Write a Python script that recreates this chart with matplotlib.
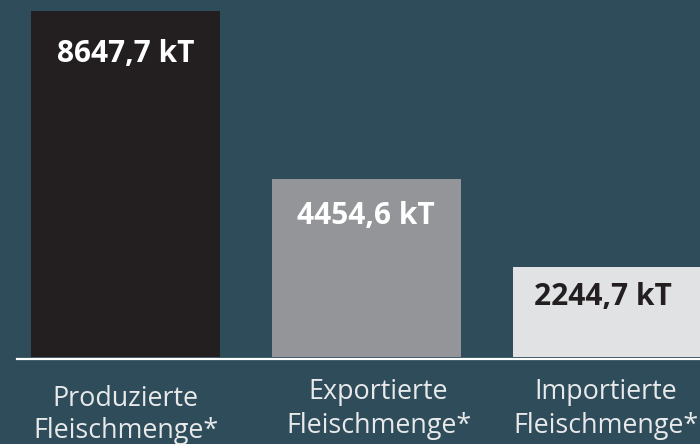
import matplotlib
matplotlib.use("Agg")
import matplotlib.pyplot as plt
import matplotlib.transforms as mtransforms
from matplotlib.lines import Line2D

categories = [["Produzierte", "Fleischmenge*"], ["Exportierte", "Fleischmenge*"], ["Importierte", "Fleischmenge*"]]
values = [8647.7, 4454.6, 2244.7]
value_labels = ["8647,7 kT", "4454,6 kT", "2244,7 kT"]

bar_colors = ["#231f20", "#939598", "#e1e2e4"]
text_colors = ["#ffffff", "#ffffff", "#231f20"]
# styling offsets (px)
value_dy = [-51, -45, -38]
value_dx = [0, -1, -5]
cat_dx = [0, 12, -2]
cat_base = [[406, 438], [399, 433], [399, 433]]
bg = "#2f4c5a"

W, H = 700, 444
PT = 0.72
fig = plt.figure(figsize=(W / 100, H / 100), dpi=100, facecolor=bg)
base_px = 357
ax = fig.add_axes([0, (H - base_px) / H, 1, base_px / H])
ax.set_facecolor(bg)
spacing = 241.0
c0 = 125.5
ax.set_xlim(-c0 / spacing, (W - c0) / spacing)
scale = 346.0 / values[0]
ax.set_ylim(0, base_px / scale)
for s in ax.spines.values():
    s.set_visible(False)
ax.set_xticks([])
ax.set_yticks([])

x = list(range(len(values)))
ax.bar(x, values, width=189 / spacing, color=bar_colors, zorder=2)

for xi, v, lab, tc, dy, dx in zip(x, values, value_labels, text_colors, value_dy, value_dx):
    ax.annotate(lab, (xi, v), xytext=(dx * PT, dy * PT), textcoords="offset points",
                ha="center", va="baseline", color=tc, fontsize=21.5,
                fontweight="bold", family="Open Sans", zorder=3)

fig.add_artist(Line2D([17 / W, 1], [(H - 359) / H] * 2, color="#ffffff", lw=1.6))

trans = mtransforms.blended_transform_factory(ax.transData, fig.transFigure)
for xi, lines, dx, bases in zip(x, categories, cat_dx, cat_base):
    for line, b in zip(lines, bases):
        ax.annotate(line, (xi, (H - b) / H), xycoords=trans, xytext=(dx * PT, 0),
                    textcoords="offset points", ha="center", va="baseline",
                    color="#e8e9ea", fontsize=19.4, family="Open Sans",
                    annotation_clip=False)

fig.savefig("out.png", dpi=100, facecolor=bg)
